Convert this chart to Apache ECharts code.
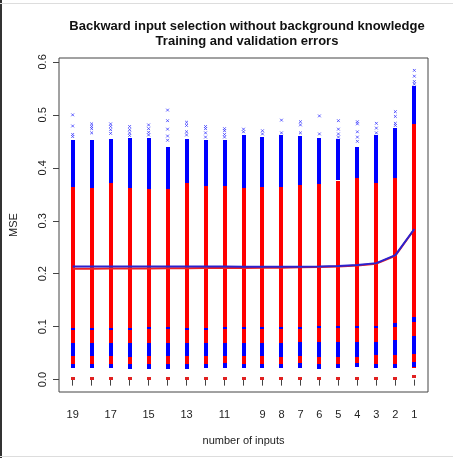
<!DOCTYPE html>
<html><head><meta charset="utf-8">
<script src="https://cdn.jsdelivr.net/npm/echarts@6/dist/echarts.min.js"></script>
<style>html,body{margin:0;padding:0;background:#fff}#c{width:453px;height:458px}</style>
</head><body><div id="c"></div>
<script>
// ---- data ----
const inputs = [19,18,17,16,15,14,13,12,11,10,9,8,7,6,5,4,3,2,1];
const xTickLabels = [19,17,15,13,11,9,8,7,6,5,4,3,2,1];
const yTickLabels = [0,0.1,0.2,0.3,0.4,0.5,0.6];
const stripBottom = [0.022,0.022,0.022,0.021,0.021,0.021,0.021,0.022,0.022,0.022,0.022,0.022,0.022,0.021,0.022,0.024,0.022,0.023,0.023];
const redTop = [0.364,0.363,0.371,0.362,0.360,0.361,0.371,0.366,0.367,0.361,0.364,0.363,0.367,0.369,0.376,0.381,0.372,0.381,0.483];
const blueTop = [0.453,0.453,0.455,0.456,0.456,0.440,0.455,0.452,0.453,0.462,0.459,0.462,0.460,0.456,0.454,0.440,0.462,0.475,0.554];
const blueBaseTop = [0.030,0.030,0.030,0.030,0.030,0.030,0.030,0.030,0.031,0.030,0.030,0.030,0.031,0.030,0.030,0.032,0.030,0.030,0.033];
const bandLow = [0.044,0.044,0.044,0.043,0.044,0.044,0.044,0.044,0.045,0.044,0.044,0.044,0.044,0.043,0.042,0.044,0.047,0.047,0.049];
const bandHigh = [0.069,0.069,0.069,0.070,0.069,0.069,0.069,0.069,0.070,0.069,0.069,0.070,0.071,0.071,0.071,0.072,0.072,0.075,0.083];
const dotLow = [0.093,0.094,0.093,0.094,0.095,0.095,0.094,0.094,0.095,0.095,0.095,0.095,0.096,0.097,0.097,0.097,0.098,0.100,0.108];
const dotHigh = [0.097,0.098,0.097,0.098,0.099,0.099,0.098,0.098,0.099,0.099,0.099,0.099,0.100,0.100,0.100,0.101,0.102,0.107,0.118];
const redZero = [0.002,0.002,0.002,0.002,0.002,0.002,0.002,0.002,0.002,0.002,0.002,0.002,0.002,0.002,0.003,0.002,0.002,0.003,0.005];
const blueOutliers = [
  [0.500,0.479,0.463,0.459],
  [0.483,0.478,0.474,0.466],
  [0.483,0.478,0.472,0.465],
  [0.478,0.472,0.466,0.461],
  [0.481,0.474,0.467,0.462],
  [0.509,0.489,0.473,0.460,0.452],
  [0.486,0.480,0.468,0.462],
  [0.478,0.474,0.466,0.458],
  [0.474,0.470,0.463,0.458],
  [0.473,0.468],
  [0.470,0.464],
  [0.490,0.466],
  [0.487,0.481,0.466],
  [0.498,0.464],
  [0.489,0.473,0.464,0.458],
  [0.487,0.483,0.468,0.458,0.450],
  [0.484,0.475,0.466],
  [0.506,0.497,0.484,0.480],
  [0.584,0.573,0.563,0.558]
];
const redLine = [0.2095,0.2095,0.2098,0.2100,0.2100,0.2102,0.2104,0.2106,0.2108,0.2110,0.2112,0.2115,0.2120,0.2125,0.2135,0.2155,0.2190,0.2340,0.2840];
const blueLine = [0.2135,0.2135,0.2135,0.2135,0.2135,0.2135,0.2135,0.2135,0.2135,0.2132,0.2132,0.2132,0.2132,0.2135,0.2145,0.2165,0.2200,0.2350,0.2845];

// ---- build ----
const FONT = '"Liberation Sans", Arial, sans-serif';
function segs(lo, hi) { return inputs.map((x, i) => [x, lo[i], hi[i]]); }
function stripSeries(data, color, w, minH, z) {
  return {
    type: 'custom', z: z, silent: true, clip: true,
    encode: { x: 0, y: [1, 2] },
    data: data,
    renderItem: function (params, api) {
      const x = api.value(0);
      const a = api.coord([x, api.value(1)]);
      const b = api.coord([x, api.value(2)]);
      const h = Math.max(a[1] - b[1], minH);
      const cx = Math.round(a[0]);
      return { type: 'rect', shape: { x: cx - w / 2, y: Math.round((a[1] + b[1]) / 2 - h / 2), width: w, height: Math.round(h) }, style: { fill: color } };
    }
  };
}
const outlierData = [];
inputs.forEach((x, i) => blueOutliers[i].forEach(v => outlierData.push([x, v])));

const chart = echarts.init(document.getElementById('c'), null, { renderer: 'canvas' });
chart.setOption({
  animation: false,
  backgroundColor: '#fff',
  title: {
    text: 'Backward input selection without background knowledge\nTraining and validation errors',
    left: 242, top: 14, textAlign: 'center',
    textStyle: { fontFamily: FONT, fontSize: 13, fontWeight: 'bold', color: '#111', lineHeight: 15 }
  },
  grid: { left: 56, right: 25, top: 58, bottom: 66, show: true, borderColor: '#444', borderWidth: 1, backgroundColor: 'transparent' },
  xAxis: {
    type: 'value', inverse: true, min: 0.28, max: 19.72,
    name: 'number of inputs', nameLocation: 'middle', nameGap: 43,
    nameTextStyle: { fontFamily: FONT, fontSize: 11, color: '#222' },
    axisLine: { show: false },
    splitLine: { show: false },
    axisTick: { show: true, length: 6, customValues: inputs, lineStyle: { color: '#444' } },
    axisLabel: { customValues: xTickLabels, fontFamily: FONT, fontSize: 11, color: '#222', margin: 17 }
  },
  yAxis: {
    type: 'value', min: -0.02336, max: 0.60736,
    name: 'MSE', nameLocation: 'middle', nameGap: 40, nameRotate: 90,
    nameTextStyle: { fontFamily: FONT, fontSize: 11, color: '#222' },
    axisLine: { show: false },
    splitLine: { show: false },
    axisTick: { show: true, length: 6, customValues: yTickLabels, lineStyle: { color: '#444' } },
    axisLabel: { customValues: yTickLabels, rotate: 90, fontFamily: FONT, fontSize: 11, color: '#222', margin: 11,
      formatter: v => v.toFixed(1) }
  },
  graphic: [
    { type: 'rect', left: 0, top: 0, shape: { width: 2, height: 458 }, style: { fill: '#333' }, z: 100 },
    { type: 'rect', left: 0, top: 3, shape: { width: 453, height: 1 }, style: { fill: '#ddd' }, z: 100 },
    { type: 'rect', left: 0, top: 456, shape: { width: 453, height: 1 }, style: { fill: '#ddd' }, z: 100 }
  ],
  series: [
    stripSeries(segs(stripBottom, redTop), '#ff0000', 4, 2, 2),
    stripSeries(segs(redTop, blueTop), '#0000ff', 4, 2, 3),
    stripSeries(segs(stripBottom, blueBaseTop), '#0000ff', 4, 2, 3),
    stripSeries(segs(bandLow, bandHigh), '#0000ff', 4, 2, 3),
    stripSeries(segs(dotLow, dotHigh), '#0000ff', 4, 2, 3),
    stripSeries(segs(redZero, redZero), '#e02020', 4, 3, 3),
    {
      type: 'custom', z: 4, silent: true,
      encode: { x: 0, y: 1 }, data: outlierData,
      renderItem: function (params, api) {
        const p = api.coord([api.value(0), api.value(1)]);
        const r = 1.4;
        return { type: 'group', children: [
          { type: 'line', shape: { x1: p[0] - r, y1: p[1] - r, x2: p[0] + r, y2: p[1] + r }, style: { stroke: '#3a3aff', lineWidth: 0.8 } },
          { type: 'line', shape: { x1: p[0] - r, y1: p[1] + r, x2: p[0] + r, y2: p[1] - r }, style: { stroke: '#3a3aff', lineWidth: 0.8 } }
        ] };
      }
    },
    { type: 'line', z: 5, data: inputs.map((x, i) => [x, redLine[i]]), showSymbol: false, symbol: 'none',
      lineStyle: { color: '#ee2222', width: 2 } },
    { type: 'line', z: 6, data: inputs.map((x, i) => [x, blueLine[i]]), showSymbol: false, symbol: 'none',
      lineStyle: { color: '#2a22d0', width: 2 } }
  ]
});
</script>
</body></html>
